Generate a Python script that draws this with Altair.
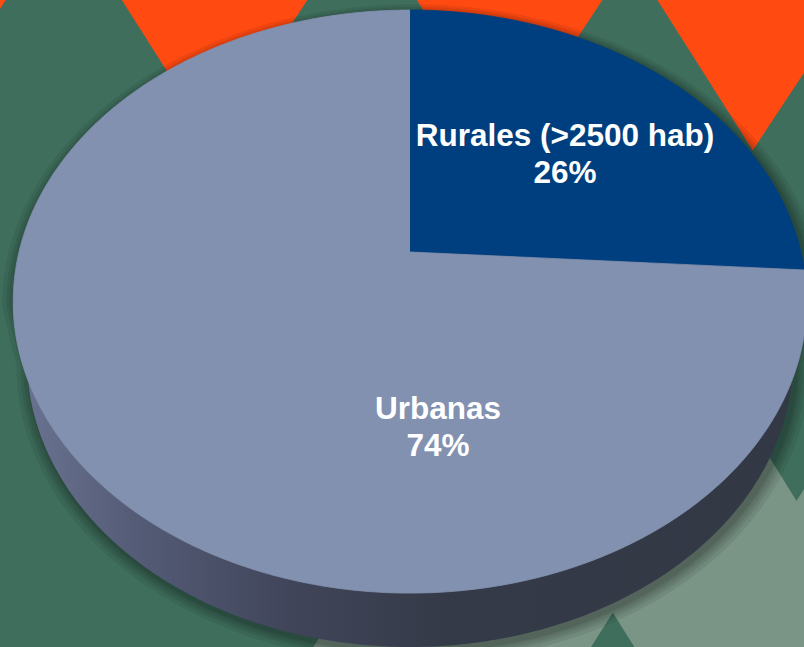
import altair as alt
import numpy as np
import pandas as pd

# ---------------- data ----------------
categories = ["Rurales (>2500 hab)", "Urbanas"]
values = [26, 74]
pct_text = ["26%", "74%"]

# ---------------- style / layout ----------------
slice_colors = ["#003F7F", "#8391B0"]
BG = "#3F6E5C"
ORANGE = "#FF4A12"
LIGHT_BG = "#7A9486"
W, H = 804, 647

# perspective pie geometry (pixels)
CX, CY = 410.0, 252.0          # apex of the wedges
RX, RY, K = 391.0, 283.1, 0.17  # radii and perspective factor
DROP = 59.0                     # thickness of the disc
BSX, BSY = 0.965, 0.985         # bottom face scale (x, y)

# label anchors relative to apex (first line baseline), line gap
LABEL_OFFSETS = [(155, -106), (28, 167)]
LINE_GAP = 37

# background decoration (pattern of triangles)
ORANGE_APEXES = [(-88, 142), (213, 143), (508, 143), (753, 150)]
LIGHT_APEXES = [(605, 192), (900, 340)]
GREEN_APEXES = [(613, 613)]


def proj(theta, sx=1.0, sy=1.0, drop=0.0, dx=0.0):
    t = np.radians(np.asarray(theta, dtype=float))
    u, v = np.sin(t), np.cos(t)
    den = 1 + K * v
    return CX + dx + sx * RX * u / den, CY + drop - sy * RY * v / den


def add_poly(rows, sid, xs, ys, color):
    for i, (x, y) in enumerate(zip(xs, ys)):
        rows.append({"id": sid, "i": i, "x": float(x), "y": float(y), "color": color})


# ---- background triangles ----
bg_rows = []
for n, (ax, ay) in enumerate(LIGHT_APEXES):
    yb = 720
    add_poly(bg_rows, f"L{n}", [ax, ax - 0.64 * (yb - ay), ax + 0.62 * (yb - ay)],
             [ay, yb, yb], LIGHT_BG)
for n, (ax, ay) in enumerate(GREEN_APEXES):
    yb = 720
    add_poly(bg_rows, f"G{n}", [ax, ax - 0.63 * (yb - ay), ax + 0.63 * (yb - ay)],
             [ay, yb, yb], BG)
for n, (ax, ay) in enumerate(ORANGE_APEXES):
    yt = -40
    add_poly(bg_rows, f"O{n}", [ax, ax - 0.634 * (ay - yt), ax + 0.66 * (ay - yt)],
             [ay, yt, yt], ORANGE)
bg_df = pd.DataFrame(bg_rows)

# ---- pie geometry ----
TS = float(np.degrees(np.arccos(-K)))  # silhouette angle

# outline of the whole disc (for a soft shadow)
shadow_rows = []
for n, e in enumerate([14, 10, 7, 4, 2]):
    s = 1 + e / 390.0
    th_top = np.linspace(360 - TS, 360 + TS, 240)
    th_bot = np.linspace(TS, 360 - TS, 240)
    x1, y1 = proj(th_top, s, s, 3, 3)
    x2, y2 = proj(th_bot, s * BSX, s * BSY, DROP + 4, 3)
    add_poly(shadow_rows, f"S{n}", np.concatenate([x1, x2]), np.concatenate([y1, y2]), "#000000")
shadow_df = pd.DataFrame(shadow_rows)

# side wall
th = np.linspace(TS, 360 - TS, 240)
xt, yt_ = proj(th)
xb, yb_ = proj(th[::-1], BSX, BSY, DROP)
side_rows = []
add_poly(side_rows, "side", np.concatenate([xt, xb]), np.concatenate([yt_, yb_]), "#343946")
side_df = pd.DataFrame(side_rows)

# top-face wedges
total = float(sum(values))
wedge_rows = []
start = 0.0
for cat, val, col in zip(categories, values, slice_colors):
    end = start + 360.0 * val / total
    tt = np.linspace(start, end, int(abs(end - start)) * 2 + 2)
    xs, ys = proj(tt)
    add_poly(wedge_rows, cat, np.concatenate([[CX], xs]), np.concatenate([[CY], ys]), col)
    start = end
wedge_df = pd.DataFrame(wedge_rows)

# labels
label_rows = []
for cat, pct, (ox, oy) in zip(categories, pct_text, LABEL_OFFSETS):
    label_rows.append({"t": cat, "x": CX + ox, "y": CY + oy})
    label_rows.append({"t": pct, "x": CX + ox, "y": CY + oy + LINE_GAP})
label_df = pd.DataFrame(label_rows)

xscale = alt.Scale(domain=[0, W], nice=False, zero=False)
yscale = alt.Scale(domain=[0, H], nice=False, zero=False, reverse=True)
X = alt.X("x:Q", scale=xscale, axis=None)
Y = alt.Y("y:Q", scale=yscale, axis=None)


def poly_layer(df, **kw):
    return alt.Chart(df).mark_line(clip=True, interpolate="linear", **kw).encode(
        x=X, y=Y, detail="id:N", order="i:Q",
        fill=alt.Fill("color:N", scale=None),
        stroke=alt.Stroke("color:N", scale=None),
    )


bg_layer = poly_layer(bg_df, strokeWidth=1)
shadow_layer = alt.Chart(shadow_df).mark_line(
    clip=True, fill="#000000", fillOpacity=0.07, strokeWidth=0, strokeOpacity=0
).encode(x=X, y=Y, detail="id:N", order="i:Q")

side_layer = alt.Chart(side_df).mark_line(
    clip=True,
    fill=alt.Gradient(
        gradient="linear", x1=0, x2=1, y1=0, y2=0,
        stops=[
            alt.GradientStop(offset=0.0, color="#6B7593"),
            alt.GradientStop(offset=0.15, color="#555C77"),
            alt.GradientStop(offset=0.35, color="#40455A"),
            alt.GradientStop(offset=0.55, color="#353A48"),
            alt.GradientStop(offset=1.0, color="#333845"),
        ],
    ),
    strokeWidth=0, strokeOpacity=0,
).encode(x=X, y=Y, detail="id:N", order="i:Q")

wedge_layer = poly_layer(wedge_df, strokeWidth=0.8)

text_layer = alt.Chart(label_df).mark_text(
    font="Liberation Sans", fontSize=31.5, fontWeight="bold", color="#FFFFFF",
    align="center", baseline="alphabetic",
).encode(x=X, y=Y, text="t:N")

chart = alt.layer(bg_layer, shadow_layer, side_layer, wedge_layer, text_layer).properties(
    width=W, height=H, padding=0, background=BG,
    autosize=alt.AutoSizeParams(type="none"),
).configure_view(strokeWidth=0)

chart.save("out.html", embed_options={"renderer": "svg", "actions": False})
